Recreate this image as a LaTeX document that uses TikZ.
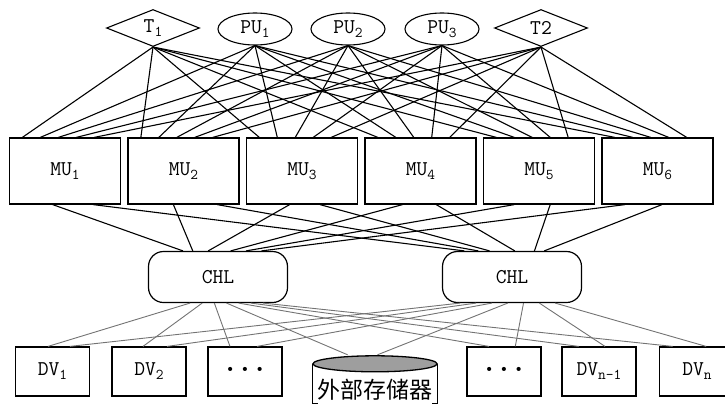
\documentclass[tikz,border=0pt]{standalone}
\usepackage{fontspec}
\newfontfamily\cjk{Noto Sans CJK SC}
\usetikzlibrary{shapes.geometric,calc}
% label with a lowered, smaller index
\newcommand\idx[2]{#1\raisebox{-0.45ex}{\fontsize{15}{15}\selectfont #2}}
% three heavy dots for the elided devices
\newcommand\elide{\raisebox{0.45ex}{\fontsize{30}{30}\selectfont\bfseries .\kern-1pt.\kern-1pt.}}

\begin{document}
\begin{tikzpicture}[x=1pt,y=-1pt,
  lbl/.style={font=\ttfamily\fontsize{21}{21}\selectfont, inner sep=0pt},
  topdia/.style={lbl, draw, line width=1.1pt, diamond, aspect=2.5, minimum width=93pt, minimum height=37pt},
  topell/.style={lbl, draw, line width=1.1pt, ellipse, minimum width=74pt, minimum height=32pt},
  mubox/.style={lbl, draw, line width=1.2pt, rectangle, minimum width=111pt, minimum height=66pt},
  chlbox/.style={lbl, draw, line width=1.2pt, rectangle, rounded corners=15pt, minimum width=139pt, minimum height=51pt},
  dvbox/.style={lbl, draw, line width=1.2pt, rectangle, minimum width=74pt, minimum height=49pt},
  link/.style={line width=1.1pt, black},
  glink/.style={line width=0.9pt, black!55}]
\useasboundingbox (0,0) rectangle (725,407);

% processor / terminal layer
\node[topdia] (ta) at (153,28) {\idx{T}{1}};
\node[topell] (pa) at (255,29) {\idx{PU}{1}};
\node[topell] (pb) at (348,29) {\idx{PU}{2}};
\node[topell] (pc) at (442,29) {\idx{PU}{3}};
\node[topdia] (tb) at (541,28) {T2};

% memory units
\foreach \m [count=\i from 0] in {1,...,6}
  \node[mubox] (mu\m) at ({65+118.5*\i},171) {\idx{MU}{\m}};

% channels
\node[chlbox] (chA) at (218,277) {CHL};
\node[chlbox] (chB) at (512,277) {CHL};

% devices
\node[dvbox] (dv1) at (52.5,371.5) {\idx{DV}{1}};
\node[dvbox] (dv2) at (149,371.5) {\idx{DV}{2}};
\node[dvbox] (dv3) at (245,371.5) {\elide};
\node[dvbox] (dv4) at (504,371.5) {\elide};
\node[dvbox] (dv5) at (599,371.5) {\idx{DV}{n-1}};
\node[dvbox, minimum width=75pt] (dv6) at (697,371.5) {\idx{DV}{n}};

% external storage drum
\node[inner sep=0pt, minimum width=124pt, minimum height=50pt] (db) at (375,380) {};
\draw[line width=1.1pt] (db.north west) ++(0,9) -- ++(0,40) -- ++(5,0);
\draw[line width=1.1pt] (db.north east) ++(0,9) -- ++(0,40) -- ++(-5,0);
\draw[line width=1.3pt, fill=black!38] ($(db.north west)!0.5!(db.north east)+(0,9)$) ellipse (62 and 8);
\node[font=\cjk\fontsize{23}{23}\selectfont, inner sep=0pt] (dbt) at (375,390) {外部存储器};

% top layer to memory units
\foreach \s [count=\i from 0] in {ta,pa,pb,pc,tb} {
  \pgfmathsetmacro\f{0.12+0.16*\i}
  \foreach \m in {1,...,6}
    \draw[link] (\s.south) -- ($(mu\m.north west)!\f!(mu\m.north east)$);
}

% memory units to channels
\foreach \m/\la/\lb/\ca/\cb in {1/0.39/0.75/0.25/0.16, 2/0.41/0.80/0.32/0.26, 3/0.39/0.66/0.43/0.34,
                                4/0.34/0.64/0.59/0.52, 5/0.28/0.60/0.70/0.66, 6/0.21/0.54/0.81/0.73} {
  \draw[link] ($(mu\m.south west)!\la!(mu\m.south east)$) -- ($(chA.north west)!\ca!(chA.north east)$);
  \draw[link] ($(mu\m.south west)!\lb!(mu\m.south east)$) -- ($(chB.north west)!\cb!(chB.north east)$);
}

% channels to devices
\foreach \d/\fa/\fb [count=\k from 0] in {dv1/0.44/0.73, dv2/0.42/0.74, dv3/0.30/0.66, db/0.28/0.52,
                                          dv4/0.30/0.65, dv5/0.23/0.58, dv6/0.18/0.62} {
  \pgfmathsetmacro\ga{0.30+0.087*\k}
  \pgfmathsetmacro\gb{0.13+0.113*\k}
  \draw[glink] ($(chA.south west)!\ga!(chA.south east)$) -- ($(\d.north west)!\fa!(\d.north east)$);
  \draw[glink] ($(chB.south west)!\gb!(chB.south east)$) -- ($(\d.north west)!\fb!(\d.north east)$);
}
\end{tikzpicture}
\end{document}
